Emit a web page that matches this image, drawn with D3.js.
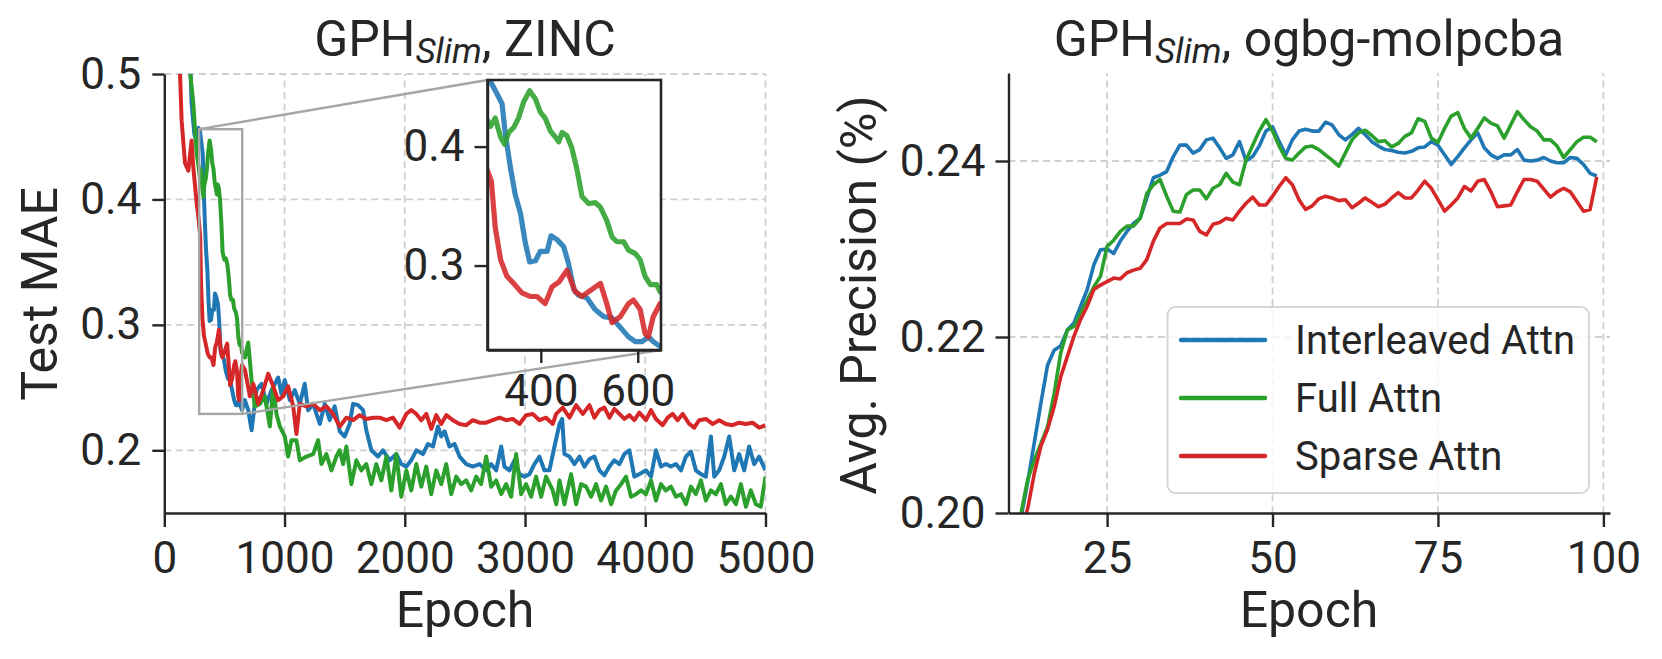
<!DOCTYPE html>
<html>
<head>
<meta charset="utf-8">
<script src="https://cdn.jsdelivr.net/npm/d3@7"></script>
<style>
  body { margin: 0; background: #fff; }
  svg text { font-family: Roboto, "DejaVu Sans", sans-serif; fill: #262626; }
</style>
</head>
<body>
<svg id="chart" width="1662" height="659"></svg>
<script>
// ---- ZINC test MAE, [epoch, value] pairs ----
const zincInterleaved = [[0,1.2],[150,0.70],[227,0.477],[250,0.452],[270,0.445],[285,0.457],[296,0.455],[310,0.444],[320,0.436],[327,0.410],[337,0.383],[347,0.360],[358,0.344],[368,0.319],[377,0.303],[389,0.304],[399,0.312],[413,0.312],[421,0.325],[433,0.322],[447,0.316],[457,0.302],[468,0.280],[478,0.275],[495,0.273],[512,0.263],[530,0.257],[547,0.256],[564,0.248],[581,0.240],[595,0.236],[609,0.236],[622,0.240],[632,0.236],[646,0.232],[670,0.240],[698,0.232],[726,0.216],[767,0.248],[809,0.253],[850,0.237],[892,0.248],[947,0.258],[974,0.245],[1002,0.256],[1044,0.240],[1085,0.248],[1127,0.237],[1168,0.253],[1196,0.232],[1238,0.237],[1293,0.221],[1334,0.237],[1376,0.224],[1417,0.235],[1459,0.215],[1500,0.211],[1542,0.221],[1570,0.237],[1611,0.236],[1653,0.232],[1680,0.216],[1722,0.200],[1777,0.195],[1819,0.200],[1874,0.192],[1930,0.197],[1971,0.189],[2013,0.187],[2054,0.192],[2096,0.200],[2151,0.197],[2192,0.205],[2234,0.203],[2276,0.219],[2303,0.211],[2331,0.215],[2372,0.203],[2414,0.205],[2456,0.195],[2511,0.189],[2566,0.187],[2622,0.189],[2677,0.184],[2718,0.189],[2760,0.184],[2802,0.203],[2829,0.187],[2871,0.184],[2912,0.192],[2954,0.181],[2995,0.179],[3037,0.181],[3078,0.189],[3120,0.195],[3161,0.184],[3203,0.184],[3245,0.203],[3287,0.221],[3309,0.225],[3328,0.197],[3370,0.195],[3411,0.189],[3453,0.195],[3494,0.187],[3536,0.193],[3577,0.195],[3619,0.184],[3660,0.180],[3702,0.187],[3743,0.192],[3785,0.189],[3826,0.197],[3868,0.200],[3909,0.179],[3951,0.181],[4006,0.184],[4048,0.179],[4089,0.200],[4131,0.187],[4172,0.189],[4214,0.187],[4255,0.189],[4297,0.184],[4338,0.195],[4380,0.199],[4421,0.184],[4463,0.181],[4504,0.179],[4546,0.211],[4574,0.179],[4615,0.184],[4657,0.195],[4698,0.211],[4740,0.184],[4781,0.197],[4823,0.184],[4864,0.203],[4906,0.189],[4947,0.195],[5000,0.184]];

const zincFull = [[0,1.2],[150,0.72],[213,0.503],[241,0.477],[269,0.437],[285,0.426],[296,0.417],[306,0.424],[317,0.408],[325,0.402],[334,0.412],[344,0.416],[354,0.424],[365,0.438],[377,0.447],[389,0.440],[399,0.429],[409,0.424],[420,0.413],[430,0.408],[437,0.404],[444,0.412],[454,0.409],[464,0.399],[475,0.380],[485,0.358],[499,0.352],[512,0.353],[523,0.349],[536,0.338],[547,0.324],[557,0.320],[571,0.320],[581,0.313],[595,0.310],[605,0.305],[615,0.291],[626,0.284],[639,0.284],[646,0.278],[670,0.274],[698,0.286],[726,0.256],[753,0.235],[795,0.237],[836,0.243],[878,0.219],[906,0.251],[933,0.229],[961,0.219],[1002,0.211],[1030,0.195],[1057,0.208],[1099,0.208],[1127,0.192],[1182,0.195],[1238,0.197],[1279,0.208],[1307,0.189],[1348,0.197],[1390,0.184],[1431,0.195],[1459,0.200],[1487,0.189],[1514,0.203],[1556,0.173],[1597,0.192],[1639,0.184],[1680,0.189],[1722,0.173],[1763,0.189],[1805,0.176],[1847,0.195],[1888,0.168],[1930,0.197],[1971,0.163],[2013,0.184],[2054,0.168],[2096,0.189],[2137,0.171],[2179,0.187],[2220,0.165],[2262,0.184],[2303,0.173],[2345,0.189],[2386,0.165],[2428,0.179],[2469,0.173],[2511,0.176],[2552,0.168],[2594,0.179],[2635,0.173],[2677,0.195],[2718,0.171],[2760,0.176],[2802,0.165],[2843,0.173],[2885,0.163],[2926,0.197],[2968,0.165],[3009,0.173],[3051,0.163],[3092,0.179],[3134,0.163],[3175,0.179],[3231,0.168],[3260,0.157],[3287,0.176],[3328,0.157],[3383,0.181],[3425,0.157],[3466,0.173],[3508,0.171],[3549,0.163],[3591,0.173],[3632,0.160],[3674,0.171],[3716,0.157],[3757,0.168],[3799,0.173],[3840,0.179],[3882,0.163],[3923,0.165],[3965,0.168],[4006,0.165],[4048,0.176],[4089,0.160],[4131,0.173],[4172,0.168],[4214,0.171],[4255,0.163],[4297,0.165],[4338,0.157],[4380,0.171],[4421,0.165],[4463,0.176],[4504,0.160],[4546,0.168],[4587,0.165],[4629,0.173],[4670,0.157],[4712,0.163],[4754,0.157],[4795,0.173],[4837,0.155],[4878,0.168],[4920,0.157],[4961,0.155],[5000,0.179]];

const zincSparse = [[0,1.1],[80,0.70],[130,0.503],[144,0.463],[172,0.429],[200,0.423],[227,0.447],[241,0.426],[269,0.397],[285,0.385],[298,0.371],[306,0.332],[317,0.305],[330,0.291],[344,0.285],[361,0.277],[378,0.274],[392,0.274],[409,0.268],[423,0.282],[437,0.286],[454,0.296],[471,0.278],[485,0.274],[499,0.278],[509,0.281],[523,0.285],[536,0.268],[547,0.252],[564,0.257],[581,0.268],[591,0.271],[605,0.263],[615,0.243],[622,0.240],[632,0.257],[646,0.268],[671,0.264],[712,0.243],[740,0.253],[781,0.237],[823,0.248],[864,0.261],[906,0.251],[947,0.240],[988,0.243],[1030,0.251],[1072,0.235],[1099,0.213],[1127,0.237],[1182,0.235],[1238,0.237],[1293,0.232],[1348,0.235],[1404,0.229],[1459,0.219],[1514,0.226],[1570,0.224],[1625,0.228],[1680,0.225],[1736,0.226],[1791,0.226],[1847,0.224],[1902,0.226],[1957,0.218],[2013,0.229],[2054,0.232],[2096,0.229],[2137,0.224],[2179,0.229],[2220,0.217],[2262,0.228],[2303,0.221],[2345,0.228],[2400,0.224],[2456,0.221],[2511,0.220],[2566,0.224],[2622,0.222],[2677,0.222],[2732,0.224],[2788,0.226],[2843,0.224],[2898,0.225],[2954,0.221],[3009,0.228],[3064,0.229],[3120,0.224],[3175,0.226],[3231,0.221],[3259,0.229],[3314,0.234],[3370,0.226],[3425,0.236],[3480,0.229],[3536,0.236],[3577,0.226],[3619,0.232],[3660,0.234],[3702,0.226],[3743,0.233],[3785,0.229],[3826,0.225],[3868,0.228],[3909,0.224],[3951,0.230],[4006,0.224],[4048,0.232],[4089,0.225],[4145,0.220],[4186,0.226],[4228,0.229],[4269,0.224],[4311,0.229],[4366,0.221],[4407,0.218],[4449,0.224],[4504,0.225],[4560,0.221],[4615,0.224],[4670,0.221],[4726,0.220],[4781,0.222],[4837,0.221],[4892,0.222],[4947,0.218],[5000,0.220]];

// ---- ogbg-molpcba average precision, one value per epoch from molFirstEpoch ----
const molFirstEpoch = 10;
const molInterleaved = [0.193,0.196,0.1995,0.2035,0.208,0.2125,0.2168,0.2185,0.219,0.2208,0.2216,0.2235,0.2254,0.2282,0.2299,0.2300,0.2295,0.2309,0.2320,0.2329,0.2335,0.2358,0.2381,0.2384,0.2388,0.2405,0.2418,0.2418,0.2409,0.2413,0.2424,0.2426,0.2415,0.2403,0.2407,0.2422,0.2400,0.2405,0.2417,0.2434,0.2439,0.2422,0.2407,0.2424,0.2434,0.2436,0.2434,0.2434,0.2444,0.2441,0.2430,0.2424,0.2430,0.2437,0.2430,0.2422,0.2417,0.2413,0.2412,0.2410,0.2409,0.2411,0.2415,0.2416,0.2422,0.2418,0.2407,0.2396,0.2405,0.2415,0.2424,0.2432,0.2415,0.2407,0.2403,0.2407,0.2407,0.2413,0.2401,0.2400,0.2401,0.2404,0.2400,0.2398,0.2398,0.2404,0.2403,0.2396,0.2386,0.2383];
const molFull = [0.194,0.197,0.2,0.2038,0.206,0.2079,0.2098,0.2136,0.2182,0.2208,0.2212,0.2227,0.2242,0.2257,0.2269,0.2303,0.2310,0.2320,0.2326,0.2326,0.2335,0.2363,0.2373,0.2379,0.2360,0.2343,0.2342,0.2362,0.2367,0.2367,0.2357,0.2369,0.2373,0.2386,0.2376,0.2373,0.2401,0.2418,0.2434,0.2447,0.2434,0.2417,0.2403,0.2401,0.2409,0.2416,0.2417,0.2413,0.2407,0.2401,0.2394,0.2409,0.2424,0.2432,0.2435,0.2429,0.2422,0.2423,0.2416,0.2420,0.2428,0.2432,0.2448,0.2445,0.2426,0.2421,0.2437,0.2451,0.2455,0.2437,0.2426,0.2437,0.2449,0.2443,0.2440,0.2426,0.2441,0.2456,0.2447,0.2439,0.2434,0.2424,0.2424,0.2417,0.2404,0.2413,0.2422,0.2427,0.2427,0.2422];
const molSparse = [0.192,0.195,0.198,0.2005,0.2045,0.2076,0.2095,0.2121,0.2155,0.2178,0.2201,0.2220,0.2235,0.2254,0.2259,0.2263,0.2267,0.2266,0.2273,0.2276,0.2278,0.2288,0.2309,0.2324,0.2329,0.2329,0.2329,0.2334,0.2333,0.2320,0.2316,0.2328,0.2330,0.2335,0.2333,0.2343,0.2352,0.2359,0.2350,0.2350,0.2360,0.2371,0.2381,0.2373,0.2356,0.2345,0.2349,0.2357,0.2360,0.2358,0.2355,0.2356,0.2347,0.2352,0.2358,0.2353,0.2348,0.2351,0.2358,0.2364,0.2358,0.2358,0.2367,0.2377,0.2369,0.2356,0.2343,0.2350,0.2358,0.2371,0.2366,0.2377,0.2379,0.2365,0.2348,0.2349,0.2350,0.2365,0.2379,0.2379,0.2377,0.2368,0.2359,0.2365,0.2369,0.2365,0.2354,0.2343,0.2345,0.2382];

const seriesNames = ["Interleaved Attn", "Full Attn", "Sparse Attn"];
const seriesColors = ["#1f77b4", "#2ca02c", "#d62728"];

const zincXTicks = [0, 1000, 2000, 3000, 4000, 5000];
const zincYTicks = [0.2, 0.3, 0.4, 0.5];
const insetXTicks = [400, 600];
const insetYTicks = [0.3, 0.4];
const molXTicks = [25, 50, 75, 100];
const molYTicks = [0.20, 0.22, 0.24];

const ink = "#262626";
const tickFont = 44;
const labelFont = 50;

const svg = d3.select("#chart");
const defs = svg.append("defs");

function styleAxis(g) {
  g.selectAll(".domain").attr("stroke", ink).attr("stroke-width", 2.4);
  g.selectAll(".tick line").attr("stroke", ink).attr("stroke-width", 2.4);
  g.selectAll(".tick text").attr("font-size", tickFont).attr("fill", ink)
    .style("font-family", "Roboto, sans-serif");
}

function addGrid(g, x, y, xTicks, yTicks) {
  const [x0, x1] = x.range();
  const [y0, y1] = y.range();
  g.append("g").selectAll("line").data(xTicks).join("line")
    .attr("x1", d => x(d)).attr("x2", d => x(d))
    .attr("y1", y0).attr("y2", y1);
  g.append("g").selectAll("line").data(yTicks).join("line")
    .attr("x1", x0).attr("x2", x1)
    .attr("y1", d => y(d)).attr("y2", d => y(d));
  g.selectAll("line")
    .attr("stroke", "#cfcfcf").attr("stroke-width", 1.8)
    .attr("stroke-dasharray", "7,4.5");
}

function addClip(id, x, y) {
  defs.append("clipPath").attr("id", id).append("rect")
    .attr("x", x.range()[0]).attr("y", y.range()[1])
    .attr("width", x.range()[1] - x.range()[0])
    .attr("height", y.range()[0] - y.range()[1]);
}

function addTitle(cx, rest) {
  const t = svg.append("text").attr("x", cx).attr("y", 56)
    .attr("text-anchor", "middle").attr("font-size", labelFont);
  t.append("tspan").text("GPH");
  t.append("tspan").attr("font-style", "italic").attr("font-size", 35).attr("dy", 7).text("Slim");
  t.append("tspan").attr("dy", -7).text(rest);
}

// ================= left panel: ZINC =================
const xZ = d3.scaleLinear().domain([0, 5000]).range([164.3, 765.5]);
const yZ = d3.scaleLinear().domain([0.15, 0.5]).range([513, 74]);
const left = svg.append("g");
addGrid(left, xZ, yZ, zincXTicks.slice(1), [0.2, 0.3, 0.4, 0.5]);
addClip("clipZ", xZ, yZ);

const lineZ = d3.line().x(d => xZ(d[0])).y(d => yZ(d[1]));
const zincSeries = [zincInterleaved, zincFull, zincSparse];
left.append("g").attr("clip-path", "url(#clipZ)")
  .selectAll("path").data(zincSeries).join("path")
  .attr("d", lineZ).attr("fill", "none")
  .attr("stroke", (d, i) => seriesColors[i])
  .attr("stroke-width", 4).attr("stroke-linejoin", "round");

left.append("g").attr("transform", "translate(0,513)")
  .call(d3.axisBottom(xZ).tickValues(zincXTicks).tickFormat(d3.format("d"))
    .tickSize(14).tickPadding(15).tickSizeOuter(0))
  .call(styleAxis);
left.append("g").attr("transform", "translate(164.3,0)")
  .call(d3.axisLeft(yZ).tickValues(zincYTicks).tickFormat(d3.format(".1f"))
    .tickSize(12).tickPadding(11).tickSizeOuter(0))
  .call(styleAxis);

// zoom box and inset
const insetX = [290, 648];
const insetY = [0.229, 0.456];
const box = {x0: 487.5, x1: 661, y0: 80, y1: 350};
const connColor = "#a6a6a6";
left.append("rect")
  .attr("x", xZ(insetX[0])).attr("y", yZ(insetY[1]))
  .attr("width", xZ(insetX[1]) - xZ(insetX[0]))
  .attr("height", yZ(insetY[0]) - yZ(insetY[1]))
  .attr("fill", "none").attr("stroke", connColor).attr("stroke-width", 2.4);
left.append("line")
  .attr("x1", xZ(insetX[0])).attr("y1", yZ(insetY[1]))
  .attr("x2", box.x0).attr("y2", box.y0)
  .attr("stroke", connColor).attr("stroke-width", 2.4);
left.append("line")
  .attr("x1", xZ(insetX[1])).attr("y1", yZ(insetY[0]))
  .attr("x2", box.x1).attr("y2", box.y1)
  .attr("stroke", connColor).attr("stroke-width", 2.4);

const xI = d3.scaleLinear().domain(insetX).range([box.x0, box.x1]);
const yI = d3.scaleLinear().domain(insetY).range([box.y1, box.y0]);
const inset = svg.append("g");
inset.append("rect").attr("x", box.x0).attr("y", box.y0)
  .attr("width", box.x1 - box.x0).attr("height", box.y1 - box.y0)
  .attr("fill", "#fff");
addClip("clipI", xI, yI);
const lineI = d3.line().x(d => xI(d[0])).y(d => yI(d[1]));
inset.append("g").attr("clip-path", "url(#clipI)")
  .selectAll("path").data(zincSeries).join("path")
  .attr("d", lineI).attr("fill", "none")
  .attr("stroke", (d, i) => seriesColors[i]).attr("stroke-opacity", 0.88)
  .attr("stroke-width", 5.2).attr("stroke-linejoin", "round");
inset.append("g").attr("transform", `translate(0,${box.y1})`)
  .call(d3.axisBottom(xI).tickValues(insetXTicks).tickFormat(d3.format("d"))
    .tickSize(13).tickPadding(12).tickSizeOuter(0))
  .call(styleAxis);
inset.append("g").attr("transform", `translate(${box.x0},0)`)
  .call(d3.axisLeft(yI).tickValues(insetYTicks).tickFormat(d3.format(".1f"))
    .tickSize(13).tickPadding(10).tickSizeOuter(0))
  .call(styleAxis);
inset.append("rect").attr("x", box.x0).attr("y", box.y0)
  .attr("width", box.x1 - box.x0).attr("height", box.y1 - box.y0)
  .attr("fill", "none").attr("stroke", ink).attr("stroke-width", 2.6);

addTitle(465, ", ZINC");
svg.append("text").attr("x", 465).attr("y", 627).attr("text-anchor", "middle")
  .attr("font-size", labelFont).text("Epoch");
svg.append("text").attr("transform", "translate(57,294) rotate(-90)")
  .attr("text-anchor", "middle").attr("font-size", labelFont).text("Test MAE");

// ================= right panel: ogbg-molpcba =================
const xM = d3.scaleLinear().domain([10.1, 101]).range([1008.5, 1610]);
const yM = d3.scaleLinear().domain([0.20, 0.25]).range([513, 73]);
const right = svg.append("g");
addGrid(right, xM, yM, molXTicks, [0.22, 0.24]);
addClip("clipM", xM, yM);

const lineM = d3.line().x((d, i) => xM(molFirstEpoch + i)).y(d => yM(d));
right.append("g").attr("clip-path", "url(#clipM)")
  .selectAll("path").data([molInterleaved, molFull, molSparse]).join("path")
  .attr("d", lineM).attr("fill", "none")
  .attr("stroke", (d, i) => seriesColors[i])
  .attr("stroke-width", 3.6).attr("stroke-linejoin", "round");

right.append("g").attr("transform", "translate(0,513)")
  .call(d3.axisBottom(xM).tickValues(molXTicks).tickFormat(d3.format("d"))
    .tickSize(14).tickPadding(15).tickSizeOuter(0))
  .call(styleAxis);
right.append("g").attr("transform", "translate(1008.5,0)")
  .call(d3.axisLeft(yM).tickValues(molYTicks).tickFormat(d3.format(".2f"))
    .tickSize(13).tickPadding(10).tickSizeOuter(0))
  .call(styleAxis);

addTitle(1309, ", ogbg-molpcba");
svg.append("text").attr("x", 1309).attr("y", 627).attr("text-anchor", "middle")
  .attr("font-size", labelFont).text("Epoch");
svg.append("text").attr("transform", "translate(876,295) rotate(-90)")
  .attr("text-anchor", "middle").attr("font-size", labelFont).text("Avg. Precision (%)");

// legend
const legend = svg.append("g");
legend.append("rect").attr("x", 1167.5).attr("y", 307).attr("width", 421.5).attr("height", 186)
  .attr("rx", 8).attr("fill", "#fff").attr("fill-opacity", 0.8)
  .attr("stroke", "#d6d6d6").attr("stroke-width", 2);
const rows = legend.selectAll("g.row").data(seriesNames).join("g")
  .attr("transform", (d, i) => `translate(0,${340 + i * 58})`);
rows.append("line").attr("x1", 1181).attr("x2", 1265)
  .attr("stroke", (d, i) => seriesColors[i]).attr("stroke-width", 4.4)
  .attr("stroke-linecap", "round");
rows.append("text").attr("x", 1295).attr("dy", "0.36em")
  .attr("font-size", 40).text(d => d);
</script>
</body>
</html>
